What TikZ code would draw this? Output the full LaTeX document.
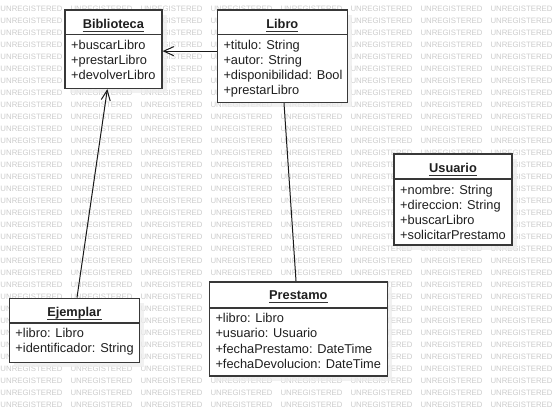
\documentclass[tikz,border=0pt]{standalone}
\usepackage{fontspec}
\setmainfont{Liberation Sans}
\usetikzlibrary{arrows.meta,fit}

% one UML class: name, left, top, right, bottom, separator y, title, attributes
\newcommand\umlclass[8]{%
  \fill[boxshadow] (#2+5,#3+5) rectangle (#4+5,#5+5);
  \node[classbox, fit={(#2,#3) (#4,#5)}] (#1) {};
  \draw[classline] (#2,#6) -- (#4,#6);
  \node[titletext] (#1-title) at ({(#2+#4)/2}, #3+18) {#7};
  \draw[titleline] ([yshift=-3pt]#1-title.base west) -- ([yshift=-3pt]#1-title.base east);
  \foreach \attr [count=\i from 0] in {#8}
    \node[attrtext] (#1-a\i) at (#2+6, #6+15+15.2*\i) {\attr};
}

\tikzset{
  boxshadow/.style={fill=black!7, opacity=0.75},
  classbox/.style={draw=black!78, line width=1.6pt, fill=white, inner sep=0pt},
  classline/.style={draw=black!78, line width=1.6pt},
  titletext/.style={anchor=base, inner sep=0pt, text=black!88,
    font=\fontsize{12.8}{15.2}\selectfont\bfseries},
  titleline/.style={draw=black!80, line width=1pt},
  attrtext/.style={anchor=base west, inner sep=0pt, text=black!88,
    font=\fontsize{12.8}{15.2}\selectfont},
  wmark/.style={anchor=base west, inner sep=0pt, text=black!20,
    font=\fontsize{7.8}{8}\selectfont},
  assoc/.style={draw=black!90, line width=1pt},
  genarrow/.style={assoc, -{Straight Barb[length=10pt, width=9pt, line width=1pt]}},
}

\begin{document}
\begin{tikzpicture}[x=1pt, y=-1pt]
  \useasboundingbox (0,0) rectangle (552,415);
  \fill[white] (0,0) rectangle (552,415);

  % repeated background text
  \begin{scope}
    \clip (0,0) rectangle (552,415);
    \foreach \r in {0,...,33}
      \foreach \c in {0,...,7}
        \node[wmark] at (0.3+70*\c, 11.6+12*\r) {UNREGISTERED};
  \end{scope}

  % classes
  \umlclass{biblio}{65}{10}{161.7}{88.3}{34.3}{Biblioteca}%
    {+buscarLibro, +prestarLibro, +devolverLibro}
  \umlclass{libro}{217.3}{10}{347.3}{102.3}{34.3}{Libro}%
    {+titulo: String, +autor: String, +disponibilidad: Bool, +prestarLibro}
  \umlclass{usuario}{394}{154}{512}{245}{179}{Usuario}%
    {+nombre: String, +direccion: String, +buscarLibro, +solicitarPrestamo}
  \umlclass{ejemplar}{9.3}{298.3}{139.3}{362.3}{322.7}{Ejemplar}%
    {+libro: Libro, +identificador: String}
  \umlclass{prestamo}{209.3}{281.7}{387.3}{376}{307.7}{Prestamo}%
    {+libro: Libro, +usuario: Usuario, +fechaPrestamo: DateTime, +fechaDevolucion: DateTime}

  % relations
  \draw[genarrow] ([yshift=5pt]libro.west) coordinate (lw) -- (lw -| biblio.east);
  \draw[genarrow] ([xshift=2.7pt]ejemplar.north) -- ([xshift=-6pt]biblio.south);
  \draw[assoc] ([xshift=1.7pt]libro.south) -- ([xshift=-2.3pt]prestamo.north);
\end{tikzpicture}
\end{document}
